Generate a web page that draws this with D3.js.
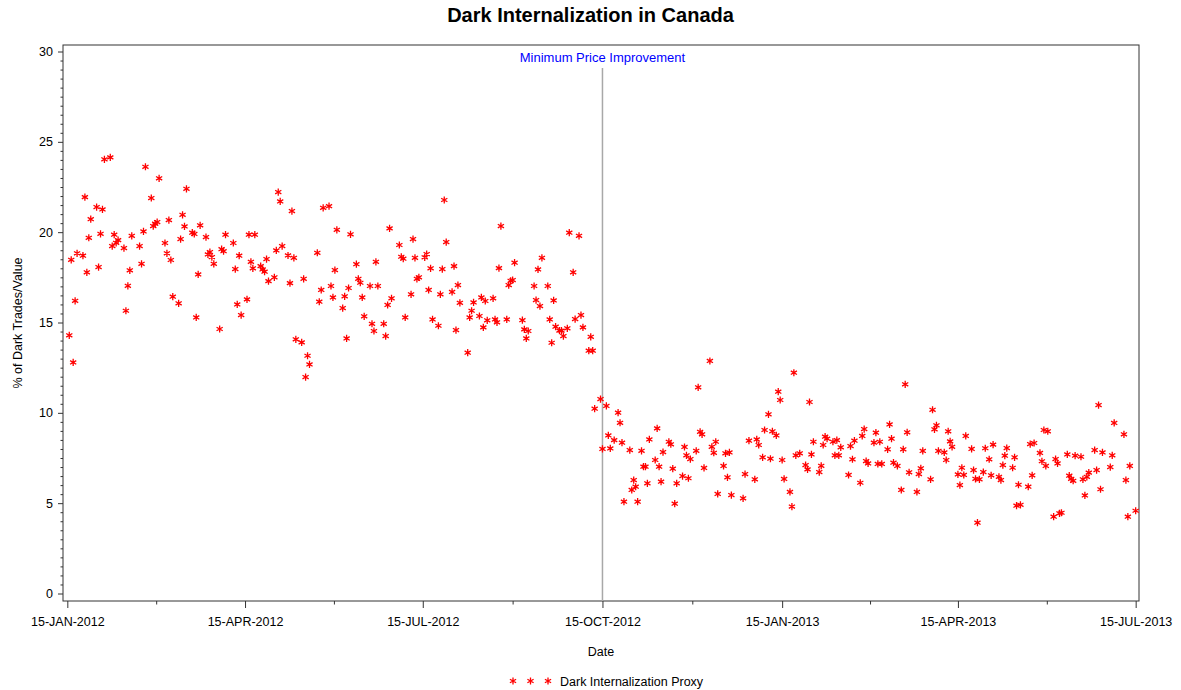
<!DOCTYPE html>
<html>
<head>
<meta charset="utf-8">
<script src="https://cdn.jsdelivr.net/npm/d3@7"></script>
<style>
  body { margin: 0; background: #fff; }
  text { font-family: Arial, 'Liberation Sans', sans-serif; }
</style>
</head>
<body>
<div id="chart"></div>
<script>
// days after 15-JAN-2012, % of dark trades/value
let proxyPoints = [
  [1,14.29],[2,18.47],[3,12.79],[4,16.2],[5,18.83],[8,18.7],[9,21.94],[10,17.78],[11,19.69],[12,20.72],
  [15,21.39],[16,18.07],[17,19.91],[18,21.26],[19,24.03],[22,24.14],[23,19.23],[24,19.86],[25,19.41],[26,19.56],
  [29,19.12],[30,15.65],[31,17.03],[32,17.89],[33,19.8],[37,19.23],[38,18.25],[39,20.04],[40,23.62],[43,21.89],
  [44,20.34],[45,20.47],[46,20.56],[47,22.98],[50,19.4],[51,18.83],[52,20.67],[53,18.46],[54,16.43],[57,16.06],
  [58,19.62],[59,20.96],[60,20.32],[61,22.4],[64,19.97],[65,19.9],[66,15.28],[67,17.66],[68,20.38],[71,19.73],
  [72,18.77],[73,18.9],[74,18.62],[75,18.25],[78,14.64],[79,19.06],[80,18.95],[81,19.86],[85,19.4],[86,17.96],
  [87,16.0],[88,18.7],[89,15.41],[92,16.28],[93,19.86],[94,18.36],[95,18.0],[96,19.86],
  [99,18.12],[100,17.94],[101,17.81],[102,18.51],[103,17.29],[106,17.5],[107,18.99],[108,22.22],[109,21.7],[110,19.23],
  [113,18.71],[114,17.18],[115,21.17],[116,18.58],[117,14.07],[120,13.9],[121,17.42],[122,11.98],[123,13.16],[124,12.68],
  [128,18.86],[129,16.15],[130,16.8],[131,21.35],[134,21.44],[135,17.02],[136,16.39],[137,17.9],[138,20.13],[141,15.8],
  [142,16.45],[143,14.12],[144,16.91],[145,19.88],[148,18.23],[149,17.42],[150,17.2],[151,16.39],[152,15.34],[155,17.02],
  [156,14.93],[157,14.53],[158,18.36],[159,17.02],[162,14.93],[163,14.25],[164,15.97],[165,20.21],[166,16.34],[170,19.29],
  [171,18.64],[172,18.53],[173,15.28],[176,16.56],[177,19.62],[178,18.58],[179,17.42],[180,17.5],[183,18.61],[184,18.79],
  [185,16.8],[186,18.0],[187,15.17],
  [190,14.82],[191,16.56],[192,17.96],[193,21.78],[194,19.45],[197,16.69],[198,18.12],[199,14.58],[200,17.07],[201,16.09],
  [205,13.33],[206,15.28],[207,15.65],[208,16.11],[211,15.36],[212,16.39],[213,14.73],[214,16.19],[215,15.12],[218,16.34],
  [219,15.17],[220,15.01],[221,18.01],[222,20.34],[225,15.17],[226,17.07],[227,17.31],[228,17.35],[229,18.31],[233,15.13],
  [234,14.62],[235,14.12],[236,14.53],[239,17.02],[240,16.24],[241,17.94],[242,15.91],[243,18.58],[246,17.02],[247,15.17],
  [248,13.88],[249,16.22],[250,14.77],[252,14.55],[253,14.55],[254,14.25],[256,14.68],[257,19.97],[259,17.78],[260,15.19],
  [262,19.8],[263,15.41],[264,14.73],[267,13.44],[268,14.21],[269,13.44],[270,10.23],[273,10.76],[276,10.38],
  [274,8.0],[277,8.75],[278,8.03],[280,8.49],[282,10.01],[283,9.45],[284,8.35],[285,5.08],[288,7.94],[289,5.73],
  [290,6.28],[291,5.91],[292,5.08],[294,7.9],[295,7.02],[296,7.02],[297,6.1],[298,8.53],[301,7.39],[302,9.14],
  [303,7.02],[304,6.19],[305,7.83],[308,8.4],[309,8.26],[310,6.91],[311,4.97],[312,6.1],[315,6.5],[316,8.11],
  [317,7.65],[318,6.38],[319,7.44],[322,7.9],[323,11.41],[324,8.95],[325,8.81],[326,6.95],[329,12.87],[330,8.12],
  [331,7.79],[332,8.4],[333,5.51],[336,7.06],[337,7.76],[338,6.43],[339,7.81],[340,5.45],[346,5.27],[347,6.61],
  [349,8.46],[352,6.32],[353,8.53],[354,8.22],[356,7.54],[357,9.05],[359,9.92],[360,7.46],[361,8.98],[363,8.75],
  [364,11.17],[365,10.71],[366,7.39],[367,6.34],
  [370,5.62],[371,4.81],[372,12.22],[373,7.65],[375,7.76],[378,7.11],[379,6.87],[380,10.6],[381,7.7],[382,8.4],
  [385,6.72],[386,7.07],[387,8.22],[388,8.68],[389,8.57],[392,8.4],[393,7.65],[394,8.49],[395,7.65],[396,8.09],
  [400,6.56],[401,8.16],[402,7.43],[403,8.46],[406,6.13],[407,8.72],[408,9.1],[409,7.33],[410,7.2],[413,8.35],
  [414,8.9],[415,7.17],[416,8.4],[417,7.17],[420,7.98],[421,9.36],[422,8.57],[423,7.24],[425,7.06],[427,5.73],
  [428,7.98],[429,11.58],[430,8.92],[431,6.71],[435,5.62],[436,6.61],[437,6.93],[438,7.89],[442,6.32],[443,10.17],
  [444,9.09],[445,9.31],[446,7.89],[449,7.81],[450,7.39],[451,8.98],[452,8.42],[453,8.12],[456,6.59],[457,6.0],
  [458,6.96],[459,6.56],[460,8.72],
  [463,8.0],[464,6.83],[465,6.35],[466,3.92],[467,6.32],[469,6.72],[470,8.04],[472,7.43],[473,6.54],[474,8.24],
  [477,6.46],[478,6.28],[479,7.11],[480,7.63],[481,8.05],[484,6.96],[485,7.54],[486,4.86],[487,6.02],[488,4.91],
  [492,5.91],[493,8.27],[494,6.54],[495,8.33],[498,7.78],[499,7.32],[500,9.05],[501,7.06],[502,8.98],[505,4.25],
  [506,7.44],[507,7.2],[508,4.44],[509,4.47],[512,7.7],[513,6.52],[514,6.35],[515,6.24],[516,7.63],[519,7.57],
  [520,6.32],[521,5.43],[522,6.46],[523,6.69],[526,7.94],[527,6.83],[528,10.43],[529,5.77],[530,7.81],[534,7.0],
  [535,7.65],[536,9.44],[541,8.81],[542,6.28],[543,4.25],[544,7.06],[547,4.58]
]

let tickDates = ['2012-01-15', '2012-04-15', '2012-07-15', '2012-10-15', '2013-01-15', '2013-04-15', '2013-07-15']
let yTicks = [0, 5, 10, 15, 20, 25, 30]
let eventDate = '2012-10-15'
let eventLabel = 'Minimum Price Improvement'
let seriesName = 'Dark Internalization Proxy'

let width = 1181
let height = 690
let margin = { top: 45, left: 63, right: 42, bottom: 89 }

let parseDate = d3.timeParse('%Y-%m-%d')
let startDate = parseDate(tickDates[0])
let fmt = d => d3.timeFormat('%d-%b-%Y')(d).toUpperCase()

let svg = d3
  .select('#chart')
  .append('svg')
  .attr('width', width)
  .attr('height', height)

let x0 = margin.left
let x1 = width - margin.right
let y0 = height - margin.bottom
let y1 = margin.top

let xScale = d3.scaleTime()
  .domain([d3.timeHour.offset(startDate, -53), d3.timeHour.offset(parseDate(tickDates[6]), 41)])
  .range([x0, x1])

let yScale = d3.scaleLinear()
  .domain([-0.415, 30.36])
  .range([y0, y1])

let majorX = tickDates.map(parseDate)
let minorX = d3.pairs(majorX).map(([a, b]) => new Date((+a + +b) / 2))
let minorY = d3.range(0, 30.01, 0.5).filter(v => v % 5 !== 0)

// y axis
let yAxis = svg.append('g')
  .attr('transform', `translate(${x0},0)`)
  .call(d3.axisLeft(yScale).tickValues(yTicks).tickSize(5).tickPadding(5))
yAxis.append('g')
  .call(d3.axisLeft(yScale).tickValues(minorY).tickSize(2.5).tickFormat(''))
yAxis.selectAll('.domain').remove()

// x axis
let xAxis = svg.append('g')
  .attr('transform', `translate(0,${y0})`)
  .call(d3.axisBottom(xScale).tickValues(majorX).tickSize(7).tickPadding(9).tickFormat(fmt))
xAxis.append('g')
  .call(d3.axisBottom(xScale).tickValues(minorX).tickSize(3.5).tickFormat(''))
xAxis.selectAll('.domain').remove()

svg.selectAll('.tick line').attr('stroke', '#333')
svg.selectAll('.tick text')
  .attr('font-size', 12.5)
  .attr('fill', '#000')
  .attr('font-family', "Arial, 'Liberation Sans', sans-serif")

// frame
svg.append('rect')
  .attr('x', x0)
  .attr('y', y1)
  .attr('width', x1 - x0)
  .attr('height', y0 - y1)
  .attr('fill', 'none')
  .attr('stroke', '#333')
  .attr('stroke-width', 1)

// reference line
svg.append('line')
  .attr('x1', xScale(parseDate(eventDate)))
  .attr('x2', xScale(parseDate(eventDate)))
  .attr('y1', 68)
  .attr('y2', y0)
  .attr('stroke', '#a8a8a8')
  .attr('stroke-width', 1.5)

svg.append('text')
  .text(eventLabel)
  .attr('x', xScale(parseDate(eventDate)))
  .attr('y', 62)
  .attr('text-anchor', 'middle')
  .attr('font-size', 13)
  .attr('fill', '#0000ff')

let star = 'M0,-3.6L0,3.6M-3.1,-1.8L3.1,1.8M-3.1,1.8L3.1,-1.8'

svg
  .selectAll('.point')
  .data(proxyPoints)
  .enter()
  .append('path')
  .attr('class', 'point')
  .attr('d', star)
  .attr('transform', d => `translate(${xScale(d3.timeDay.offset(startDate, d[0]))},${yScale(d[1])})`)
  .attr('stroke', '#ff0000')
  .attr('stroke-width', 1.3)
  .attr('fill', 'none')

// titles
svg.append('text')
  .text('Dark Internalization in Canada')
  .attr('x', width / 2)
  .attr('y', 22)
  .attr('text-anchor', 'middle')
  .attr('font-size', 20)
  .attr('font-weight', 'bold')

svg.append('text')
  .text('Date')
  .attr('x', (x0 + x1) / 2)
  .attr('y', 656)
  .attr('text-anchor', 'middle')
  .attr('font-size', 12.5)

svg.append('text')
  .text('% of Dark Trades/Value')
  .attr('transform', `translate(22,${(y0 + y1) / 2}) rotate(-90)`)
  .attr('text-anchor', 'middle')
  .attr('font-size', 12.5)

// legend
let legend = svg.append('g')
  .attr('transform', 'translate(513,681)')

legend
  .selectAll('.legend-star')
  .data([0, 1, 2])
  .enter()
  .append('path')
  .attr('class', 'legend-star')
  .attr('d', star)
  .attr('transform', d => `translate(${d * 17.5},0)`)
  .attr('stroke', '#ff0000')
  .attr('stroke-width', 1.3)

legend.append('text')
  .text(seriesName)
  .attr('x', 47)
  .attr('y', 5)
  .attr('font-size', 12.5)
</script>
</body>
</html>
